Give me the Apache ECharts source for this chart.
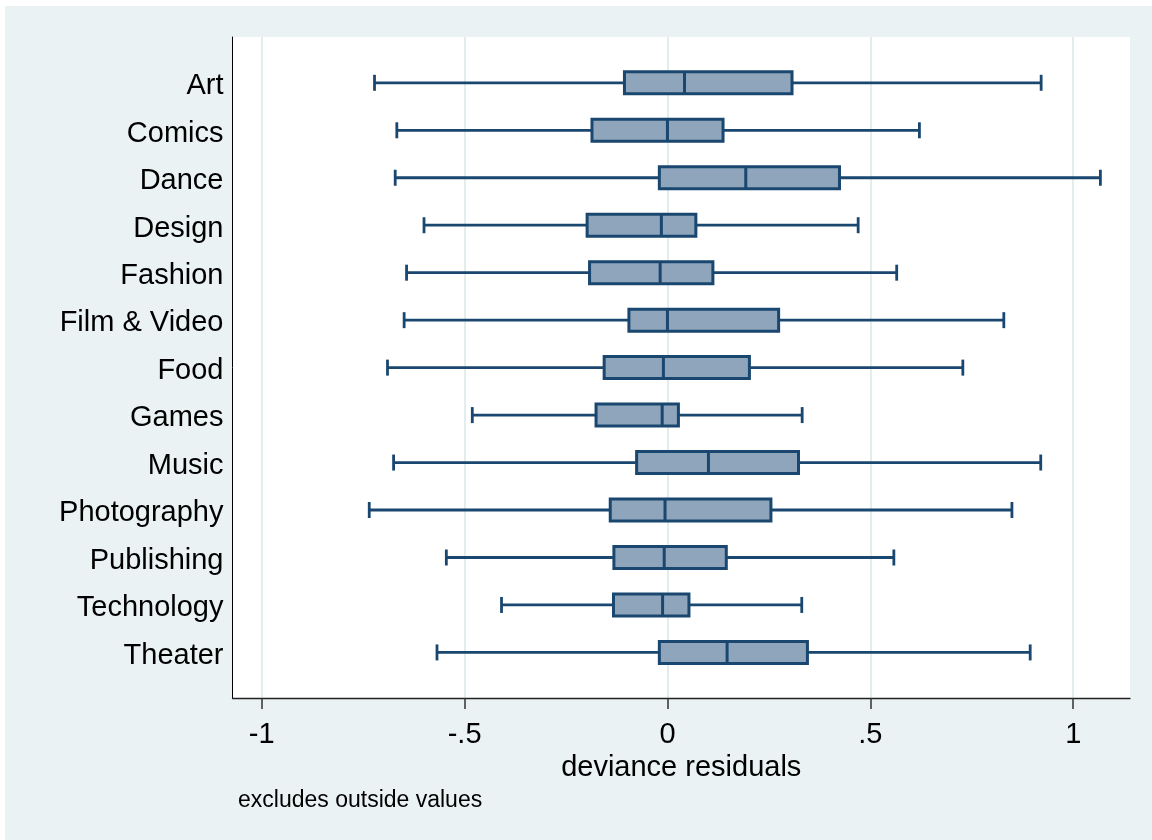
<!DOCTYPE html>
<html>
<head>
<meta charset="utf-8">
<script src="https://cdn.jsdelivr.net/npm/echarts@6/dist/echarts.min.js"></script>
<style>
  html, body { margin: 0; padding: 0; background: #fff; }
  #chart { position: absolute; left: 5px; top: 6px; width: 1147px; height: 834px; }
</style>
</head>
<body>
<div id="chart"></div>
<script>
// deviance residuals per category (outside values excluded)
var categories = ['Art', 'Comics', 'Dance', 'Design', 'Fashion', 'Film & Video', 'Food',
  'Games', 'Music', 'Photography', 'Publishing', 'Technology', 'Theater'];
var lowerWhisker = [-0.722, -0.667, -0.671, -0.600, -0.643, -0.649, -0.690, -0.481, -0.675, -0.735, -0.545, -0.409, -0.568];
var q1 = [-0.106, -0.186, -0.020, -0.198, -0.192, -0.095, -0.156, -0.176, -0.076, -0.141, -0.132, -0.133, -0.020];
var median = [0.042, 0.000, 0.193, -0.015, -0.018, 0.000, -0.010, -0.013, 0.101, -0.006, -0.008, -0.012, 0.147];
var q3 = [0.307, 0.137, 0.424, 0.070, 0.112, 0.274, 0.202, 0.027, 0.323, 0.255, 0.145, 0.053, 0.345];
var upperWhisker = [0.921, 0.621, 1.067, 0.470, 0.565, 0.829, 0.728, 0.332, 0.920, 0.849, 0.558, 0.331, 0.894];
var xTicks = [-1, -0.5, 0, 0.5, 1];
var xTickLabels = ['-1', '-.5', '0', '.5', '1'];

var navy = '#1a476f';
var boxFill = '#8ea5bb';

var rows = categories.map(function (name, i) {
  return [i + 1, lowerWhisker[i], q1[i], median[i], q3[i], upperWhisker[i]];
});

function renderBox(params, api) {
  var y = api.value(0);
  var lo = api.coord([api.value(1), y]);
  var a = api.coord([api.value(2), y]);
  var m = api.coord([api.value(3), y]);
  var b = api.coord([api.value(4), y]);
  var hi = api.coord([api.value(5), y]);
  var cy = lo[1];
  var half = 11, cap = 8;
  var ls = { stroke: navy, lineWidth: 2.8 };
  return {
    type: 'group',
    children: [
      { type: 'line', shape: { x1: lo[0], y1: cy, x2: a[0], y2: cy }, style: ls },
      { type: 'line', shape: { x1: b[0], y1: cy, x2: hi[0], y2: cy }, style: ls },
      { type: 'line', shape: { x1: lo[0], y1: cy - cap, x2: lo[0], y2: cy + cap }, style: ls },
      { type: 'line', shape: { x1: hi[0], y1: cy - cap, x2: hi[0], y2: cy + cap }, style: ls },
      { type: 'rect', shape: { x: a[0], y: cy - half, width: b[0] - a[0], height: half * 2 },
        style: { fill: boxFill, stroke: navy, lineWidth: 3 } },
      { type: 'line', shape: { x1: m[0], y1: cy - half, x2: m[0], y2: cy + half }, style: { stroke: navy, lineWidth: 3 } }
    ]
  };
}

var chart = echarts.init(document.getElementById('chart'));
chart.setOption({
  animation: false,
  backgroundColor: '#eaf2f3',
  textStyle: { fontFamily: '"Liberation Sans", Arial, sans-serif' },
  grid: {
    left: 227.5, right: 22, top: 31, bottom: 142,
    show: true, backgroundColor: '#fff', borderWidth: 0
  },
  xAxis: {
    type: 'value',
    min: -1.072,
    max: 1.14,
    name: 'deviance residuals',
    nameLocation: 'middle',
    nameGap: 46,
    nameTextStyle: { fontSize: 29, color: '#000' },
    axisLine: { show: true, onZero: false, lineStyle: { color: '#222', width: 1.3 } },
    axisTick: { show: true, customValues: xTicks, length: 11, lineStyle: { color: '#333', width: 1.5 } },
    axisLabel: {
      customValues: xTicks,
      fontSize: 29,
      color: '#000',
      margin: 22,
      formatter: function (v) {
        var i = xTicks.indexOf(v);
        return i >= 0 ? xTickLabels[i] : '';
      }
    },
    splitLine: { show: true, lineStyle: { color: '#e3edef', width: 2 } }
  },
  yAxis: {
    type: 'value',
    inverse: true,
    min: 0.035,
    max: 13.96,
    axisLine: { show: true, onZero: false, lineStyle: { color: '#000', width: 1 } },
    axisTick: { show: false },
    splitLine: { show: false },
    axisLabel: {
      // labels sit a touch below the box centres, as in the original
      customValues: categories.map(function (c, i) { return i + 1.07; }),
      fontSize: 29,
      color: '#000',
      margin: 9,
      formatter: function (v) {
        return categories[Math.round(v) - 1] || '';
      }
    }
  },
  graphic: [{
    type: 'text',
    left: 233,
    top: 783,
    style: { text: 'excludes outside values', fontSize: 23, fill: '#000',
      fontFamily: '"Liberation Sans", Arial, sans-serif' }
  }],
  series: [{
    type: 'custom',
    renderItem: renderBox,
    encode: { x: [1, 2, 3, 4, 5], y: 0 },
    data: rows
  }]
});
</script>
</body>
</html>
